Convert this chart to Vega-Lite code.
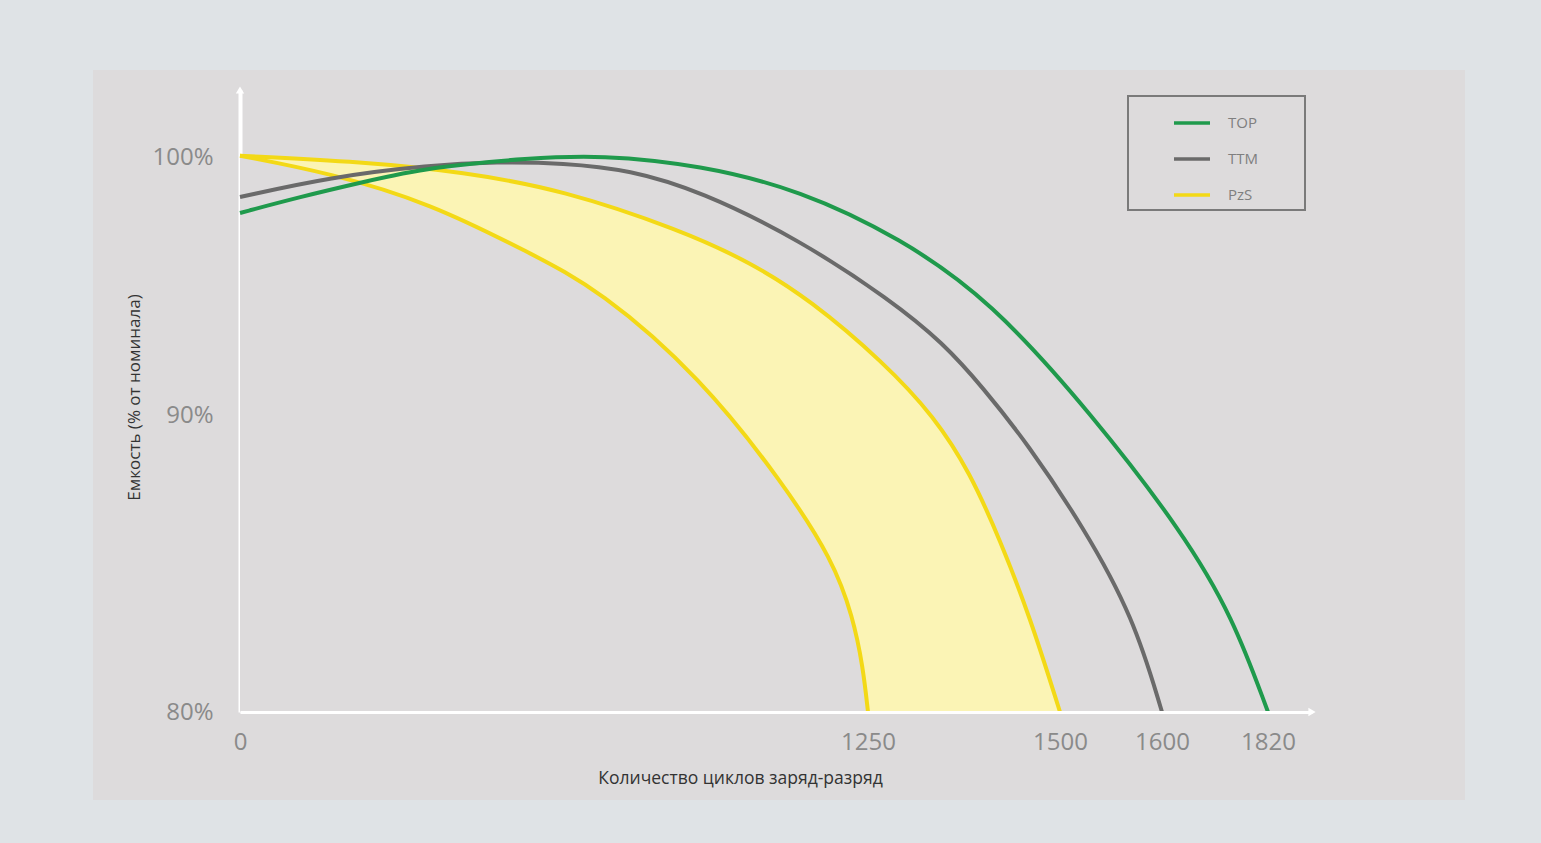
{
  "$schema": "https://vega.github.io/schema/vega-lite/v6.json",
  "autosize": "none",
  "width": 1372,
  "height": 730,
  "padding": {"left": 93, "top": 70, "right": 76, "bottom": 43},
  "background": "#dfe3e6",
  "view": {"fill": "#dddbdc", "stroke": null},
  "config": {"legend": {"strokeWidth": 2}},
  "datasets": {
    "curves": [
      {"series": "PzS", "curve": "PzS-hi", "cycles": 0, "cap": 100.05},
      {"series": "PzS", "curve": "PzS-hi", "cycles": 245, "cap": 99.81},
      {"series": "PzS", "curve": "PzS-hi", "cycles": 444, "cap": 99.42},
      {"series": "PzS", "curve": "PzS-hi", "cycles": 643, "cap": 98.72},
      {"series": "PzS", "curve": "PzS-hi", "cycles": 876, "cap": 97.17},
      {"series": "PzS", "curve": "PzS-hi", "cycles": 1015, "cap": 95.93},
      {"series": "PzS", "curve": "PzS-hi", "cycles": 1135, "cap": 94.46},
      {"series": "PzS", "curve": "PzS-hi", "cycles": 1270, "cap": 92.05},
      {"series": "PzS", "curve": "PzS-hi", "cycles": 1337, "cap": 89.93},
      {"series": "PzS", "curve": "PzS-hi", "cycles": 1383, "cap": 88.05},
      {"series": "PzS", "curve": "PzS-hi", "cycles": 1422, "cap": 85.79},
      {"series": "PzS", "curve": "PzS-hi", "cycles": 1461, "cap": 83.2},
      {"series": "PzS", "curve": "PzS-hi", "cycles": 1500, "cap": 80},
      {"series": "PzS", "curve": "PzS-lo", "cycles": 0, "cap": 100.05},
      {"series": "PzS", "curve": "PzS-lo", "cycles": 179, "cap": 99.38},
      {"series": "PzS", "curve": "PzS-lo", "cycles": 378, "cap": 98.22},
      {"series": "PzS", "curve": "PzS-lo", "cycles": 577, "cap": 96.28},
      {"series": "PzS", "curve": "PzS-lo", "cycles": 717, "cap": 94.84},
      {"series": "PzS", "curve": "PzS-lo", "cycles": 916, "cap": 91.47},
      {"series": "PzS", "curve": "PzS-lo", "cycles": 1081, "cap": 87.71},
      {"series": "PzS", "curve": "PzS-lo", "cycles": 1180, "cap": 85.12},
      {"series": "PzS", "curve": "PzS-lo", "cycles": 1220, "cap": 83.2},
      {"series": "PzS", "curve": "PzS-lo", "cycles": 1240, "cap": 81.52},
      {"series": "PzS", "curve": "PzS-lo", "cycles": 1250, "cap": 80},
      {"series": "TTM", "curve": "TTM", "cycles": 0, "cap": 98.45},
      {"series": "TTM", "curve": "TTM", "cycles": 179, "cap": 99.22},
      {"series": "TTM", "curve": "TTM", "cycles": 378, "cap": 99.69},
      {"series": "TTM", "curve": "TTM", "cycles": 512, "cap": 99.81},
      {"series": "TTM", "curve": "TTM", "cycles": 643, "cap": 99.77},
      {"series": "TTM", "curve": "TTM", "cycles": 776, "cap": 99.5},
      {"series": "TTM", "curve": "TTM", "cycles": 916, "cap": 98.68},
      {"series": "TTM", "curve": "TTM", "cycles": 1115, "cap": 96.78},
      {"series": "TTM", "curve": "TTM", "cycles": 1279, "cap": 94.46},
      {"series": "TTM", "curve": "TTM", "cycles": 1348, "cap": 92.79},
      {"series": "TTM", "curve": "TTM", "cycles": 1400, "cap": 91.05},
      {"series": "TTM", "curve": "TTM", "cycles": 1457, "cap": 89.06},
      {"series": "TTM", "curve": "TTM", "cycles": 1523, "cap": 86.23},
      {"series": "TTM", "curve": "TTM", "cycles": 1572, "cap": 83.2},
      {"series": "TTM", "curve": "TTM", "cycles": 1600, "cap": 80},
      {"series": "TOP", "curve": "TOP", "cycles": 0, "cap": 97.83},
      {"series": "TOP", "curve": "TOP", "cycles": 119, "cap": 98.45},
      {"series": "TOP", "curve": "TOP", "cycles": 245, "cap": 99.03},
      {"series": "TOP", "curve": "TOP", "cycles": 378, "cap": 99.61},
      {"series": "TOP", "curve": "TOP", "cycles": 577, "cap": 99.96},
      {"series": "TOP", "curve": "TOP", "cycles": 717, "cap": 100.08},
      {"series": "TOP", "curve": "TOP", "cycles": 916, "cap": 99.69},
      {"series": "TOP", "curve": "TOP", "cycles": 1115, "cap": 98.72},
      {"series": "TOP", "curve": "TOP", "cycles": 1292, "cap": 96.86},
      {"series": "TOP", "curve": "TOP", "cycles": 1409, "cap": 94.46},
      {"series": "TOP", "curve": "TOP", "cycles": 1532, "cap": 90.0},
      {"series": "TOP", "curve": "TOP", "cycles": 1644, "cap": 86.03},
      {"series": "TOP", "curve": "TOP", "cycles": 1747, "cap": 83.2},
      {"series": "TOP", "curve": "TOP", "cycles": 1820, "cap": 80}
    ],
    "axisEnds": [
      {"cycles": 0, "cap": 102.6, "end": "y"},
      {"cycles": 1900, "cap": 80, "end": "x"}
    ]
  },
  "encoding": {
    "x": {
      "field": "cycles",
      "type": "quantitative",
      "scale": {"type": "linear", "domain": [0, 1250, 1500, 1600, 1820, 1900], "range": [147, 775, 967, 1069, 1175, 1219], "nice": false, "zero": false},
      "axis": {
        "values": [0, 1250, 1500, 1600, 1820],
        "format": "d",
        "offset": -88,
        "zindex": 1,
        "grid": false,
        "ticks": false,
        "tickSize": 0,
        "domainColor": "#ffffff",
        "domainWidth": 3,
        "labelPadding": 18,
        "labelFont": "Open Sans",
        "labelFontSize": 24,
        "labelColor": "#8a8a8a",
        "labelFlush": false,
        "labelOverlap": false,
        "title": "Количество циклов заряд-разряд",
        "titleX": 647,
        "titleY": 66,
        "titleAlign": "center",
        "titleBaseline": "middle",
        "titleFont": "Open Sans",
        "titleFontSize": 17.5,
        "titleFontWeight": "normal",
        "titleColor": "#333333"
      }
    },
    "y": {
      "field": "cap",
      "type": "quantitative",
      "scale": {"type": "linear", "domain": [80, 90, 100, 102.6], "range": [642, 345, 87, 20], "nice": false, "zero": false},
      "axis": {
        "values": [80, 90, 100],
        "labelExpr": "datum.value + '%'",
        "offset": -147,
        "grid": false,
        "ticks": false,
        "tickSize": 0,
        "domainColor": "#ffffff",
        "domainWidth": 4,
        "labelPadding": 27,
        "labelFont": "Open Sans",
        "labelFontSize": 24,
        "labelColor": "#8a8a8a",
        "labelFlush": false,
        "labelOverlap": false,
        "title": "Емкость (% от номинала)",
        "titleX": -106,
        "titleY": 327,
        "titleAngle": -90,
        "titleAlign": "center",
        "titleBaseline": "middle",
        "titleFont": "Open Sans",
        "titleFontSize": 17,
        "titleFontWeight": "normal",
        "titleColor": "#333333"
      }
    }
  },
  "layer": [
    {
      "data": {"name": "curves"},
      "transform": [{"filter": "datum.curve === 'PzS-hi'"}],
      "mark": {"type": "area", "interpolate": "basis", "color": "#fbf4b5", "opacity": 1},
      "encoding": {"y2": {"datum": 80}}
    },
    {
      "data": {"name": "curves"},
      "transform": [{"filter": "datum.curve === 'PzS-lo'"}],
      "mark": {"type": "area", "interpolate": "basis", "color": "#dddbdc", "opacity": 1},
      "encoding": {"y2": {"datum": 80}}
    },
    {
      "data": {"name": "curves"},
      "mark": {"type": "line", "interpolate": "basis", "strokeWidth": 4},
      "encoding": {
        "color": {
          "field": "series",
          "type": "nominal",
          "scale": {"domain": ["TOP", "TTM", "PzS"], "range": ["#1f9a4c", "#6a6a6a", "#f3d916"]},
          "legend": {
            "orient": "none",
            "legendX": 1035,
            "legendY": 26,
            "title": " ",
            "titleOrient": "right",
            "titleFont": "Open Sans",
            "titleFontSize": 15,
            "titlePadding": 40,
            "symbolType": "stroke",
            "symbolSize": 1296,
            "symbolStrokeWidth": 3.5,
            "symbolOffset": 37,
            "labelOffset": 16,
            "labelFont": "Open Sans",
            "labelFontSize": 15,
            "labelColor": "#7f7f7f",
            "rowPadding": 8,
            "padding": 7,
            "strokeColor": "#7a7a7a",
            "fillColor": "#dddbdc"
          }
        },
        "detail": {"field": "curve"},
        "order": {"field": "cycles"}
      }
    },
    {
      "data": {"name": "axisEnds"},
      "mark": {"type": "point", "filled": true, "color": "#ffffff", "size": 70, "opacity": 1},
      "encoding": {
        "shape": {
          "field": "end",
          "type": "nominal",
          "scale": {"domain": ["y", "x"], "range": ["triangle-up", "triangle-right"]},
          "legend": null
        }
      }
    }
  ]
}
